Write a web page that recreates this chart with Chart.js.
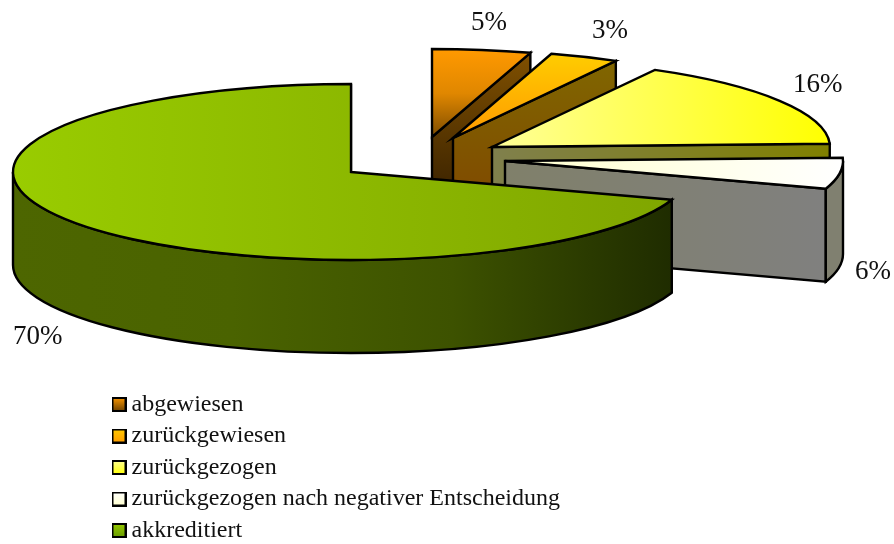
<!DOCTYPE html>
<html>
<head>
<meta charset="utf-8">
<style>
  html, body { margin: 0; padding: 0; background: #fff; }
  canvas { display: block; }
</style>
<script src="https://cdn.jsdelivr.net/npm/chart.js@4/dist/chart.umd.min.js"></script>
</head>
<body>
<canvas id="pie" width="894" height="544"></canvas>
<script>
const categories = ['abgewiesen', 'zurückgewiesen', 'zurückgezogen', 'zurückgezogen nach negativer Entscheidung', 'akkreditiert'];
const shareValues = [4.7, 3.3, 16.4, 5.7, 69.9];

const SERIF = '"Liberation Serif", serif';
const RX = 338, RY = 88, DEPTH = 93;

// apex of each exploded slice, label position, gradients [x0,y0,x1,y1,stops...]
const slices = [
  { cx: 432, cy: 137, lx: 471, ly: 23,
    top: [0, 50, 0, 137, '#ff9900', '#e08700', '#7f4d00'], wall: [0, 53, 0, 185, '#805000', '#402600'],
    swatch: ['#ff9900', '#663d00'] },
  { cx: 453, cy: 138, lx: 592, ly: 31,
    top: [0, 55, 0, 138, '#ffcc00', '#ff9900'], wall: [0, 62, 0, 185, '#806600', '#804d00'],
    swatch: ['#ffcc00', '#ff9900'] },
  { cx: 492, cy: 147, lx: 793, ly: 85,
    top: [492, 0, 830, 0, '#ffff99', '#ffff00'], wall: [492, 0, 830, 0, '#80804d', '#808000'],
    swatch: ['#ffff99', '#ffff00'] },
  { cx: 505, cy: 161, lx: 855, ly: 272,
    top: [503, 0, 843, 0, '#ffffcc', '#ffffff'], wall: [503, 0, 843, 0, '#80806a', '#808080'],
    outer: '#808070', swatch: ['#ffffff', '#ffffcc'] },
  { cx: 351, cy: 172, lx: 13, ly: 337,
    top: [13, 0, 672, 0, '#99cc00', '#80a600'], wall: [13, 0, 672, 0, '#4d6600', '#4a6300', '#3d5200', '#1f2c00'],
    swatch: ['#99cc00', '#669900'] }
];

function makeGradient(ctx, g) {
  const grad = ctx.createLinearGradient(g[0], g[1], g[2], g[3]);
  const stops = g.slice(4);
  stops.forEach((c, i) => grad.addColorStop(i / (stops.length - 1), c));
  return grad;
}

function makeSwatch(colors) {
  const c = document.createElement('canvas');
  c.width = 15;
  c.height = 15;
  const x = c.getContext('2d');
  x.fillStyle = makeGradient(x, [0, 0, 0, 15, colors[0], colors[1]]);
  x.fillRect(1, 1, 13, 13);
  x.lineWidth = 2;
  x.strokeStyle = '#000';
  x.strokeRect(1, 1, 13, 13);
  return c;
}

function paint(ctx, fill) {
  ctx.fillStyle = fill;
  ctx.fill();
  ctx.stroke();
}

// The doughnut controller gives the angles, this turns them into a tilted cake
const tiltedPie = {
  id: 'tiltedPie',
  afterLayout(chart) {
    // legend box is capped at half the width and clips the long label otherwise
    chart.legend.right = chart.width;
    chart.legend.bottom = chart.height + 6;
  },
  beforeDatasetDraw(chart) {
    const ctx = chart.ctx;
    const arcs = chart.getDatasetMeta(0).data;
    ctx.save();
    ctx.lineWidth = 2.4;
    ctx.lineJoin = 'miter';
    ctx.strokeStyle = '#000';
    arcs.forEach((arc, i) => {
      const s = slices[i];
      const a0 = arc.startAngle, a1 = arc.endAngle;
      const wall = makeGradient(ctx, s.wall);
      const ex = s.cx + RX * Math.cos(a1), ey = s.cy + RY * Math.sin(a1);

      // cut face at the end of the slice
      ctx.beginPath();
      ctx.moveTo(s.cx, s.cy);
      ctx.lineTo(ex, ey);
      ctx.lineTo(ex, ey + DEPTH);
      ctx.lineTo(s.cx, s.cy + DEPTH);
      ctx.closePath();
      paint(ctx, wall);

      // outer rim, only the part facing the viewer
      const from = Math.max(a0, 0), to = Math.min(a1, Math.PI);
      if (to > from) {
        ctx.beginPath();
        ctx.ellipse(s.cx, s.cy, RX, RY, 0, from, to);
        ctx.ellipse(s.cx, s.cy + DEPTH, RX, RY, 0, to, from, true);
        ctx.closePath();
        paint(ctx, s.outer || wall);
      }

      // top face
      ctx.beginPath();
      ctx.moveTo(s.cx, s.cy);
      ctx.ellipse(s.cx, s.cy, RX, RY, 0, a0, a1);
      ctx.closePath();
      paint(ctx, makeGradient(ctx, s.top));
    });

    ctx.fillStyle = '#111';
    ctx.font = '27px ' + SERIF;
    ctx.textAlign = 'left';
    ctx.textBaseline = 'middle';
    shareValues.forEach((v, i) => {
      ctx.fillText(Math.round(v) + '%', slices[i].lx, slices[i].ly);
    });
    ctx.restore();
    return false;
  }
};

new Chart(document.getElementById('pie'), {
  type: 'pie',
  data: {
    labels: categories,
    datasets: [{ data: shareValues, backgroundColor: slices.map(s => s.swatch[0]) }]
  },
  options: {
    responsive: false,
    animation: false,
    events: [],
    layout: { padding: { left: 111, bottom: 0 } },
    plugins: {
      tooltip: { enabled: false },
      legend: {
        position: 'left',
        align: 'end',
        labels: {
          color: '#111',
          font: { family: SERIF, size: 24 },
          padding: 7.5,
          usePointStyle: true,
          pointStyleWidth: 1,
          generateLabels: () => categories.map((text, i) => ({
            text,
            index: i,
            pointStyle: makeSwatch(slices[i].swatch),
            fontColor: '#111'
          }))
        }
      }
    }
  },
  plugins: [tiltedPie]
});
</script>
</body>
</html>
